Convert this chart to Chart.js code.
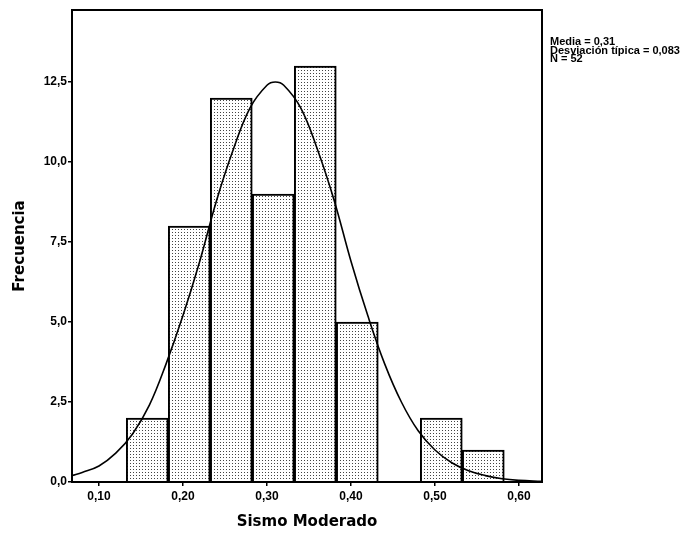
<!DOCTYPE html>
<html>
<head>
<meta charset="utf-8">
<script src="https://cdn.jsdelivr.net/npm/chart.js@4/dist/chart.umd.min.js"></script>
<style>
  html, body { margin: 0; padding: 0; background: #fff; }
  #wrap { width: 693px; height: 536px; }
</style>
</head>
<body>
<div id="wrap"><canvas id="hist"></canvas></div>
<script>
// histogram data
const binCenters = [0.1575, 0.2075, 0.2575, 0.3075, 0.3575, 0.4075, 0.4575, 0.5075, 0.5575];
const counts = [2, 8, 12, 9, 13, 5, 0, 2, 1];

// normal curve, read at these x positions
const curveX = [0.068, 0.08, 0.10, 0.12, 0.14, 0.16, 0.18, 0.20, 0.22, 0.24, 0.26, 0.28, 0.30, 0.31,
                0.32, 0.34, 0.36, 0.38, 0.40, 0.42, 0.44, 0.46, 0.48, 0.50, 0.52, 0.54, 0.56, 0.58, 0.60, 0.627];
const curveY = [0.2, 0.3, 0.5, 0.9, 1.5, 2.4, 3.7, 5.2, 6.9, 8.8, 10.4, 11.7, 12.4, 12.5,
                12.4, 11.7, 10.4, 8.8, 6.9, 5.2, 3.7, 2.5, 1.6, 1.0, 0.6, 0.35, 0.2, 0.1, 0.05, 0.02];

const xTicks = [0.10, 0.20, 0.30, 0.40, 0.50, 0.60];
const yTicks = [0, 2.5, 5, 7.5, 10, 12.5];
const statLines = ['Media = 0,31', 'Desviación típica = 0,083', 'N = 52'];

// stipple fill for the bars
const pat = document.createElement('canvas');
pat.width = 3; pat.height = 3;
const pctx = pat.getContext('2d');
pctx.fillStyle = '#fff';
pctx.fillRect(0, 0, 3, 3);
pctx.fillStyle = '#444';
pctx.fillRect(1, 1, 1, 1);

const frameAndStats = {
  id: 'frameAndStats',
  afterDraw(chart) {
    const { ctx, chartArea: a } = chart;
    ctx.save();
    ctx.strokeStyle = '#000';
    ctx.lineWidth = 2;
    ctx.strokeRect(a.left, a.top, a.right - a.left, a.bottom - a.top);
    ctx.fillStyle = '#000';
    ctx.font = 'bold 11px "Liberation Sans Narrow", "Liberation Sans", Arial';
    ctx.textBaseline = 'middle';
    statLines.forEach((t, i) => ctx.fillText(t, a.right + 8, 42 + i * 8.5));
    ctx.restore();
  }
};

new Chart(document.getElementById('hist'), {
  data: {
    datasets: [
      {
        type: 'line',
        data: curveX.map((x, i) => ({ x: x, y: curveY[i] })),
        borderColor: '#000',
        borderWidth: 1.6,
        pointRadius: 0,
        tension: 0.4,
        fill: false,
        order: 0
      },
      {
        type: 'bar',
        data: binCenters.map((x, i) => ({ x: x, y: counts[i] })),
        backgroundColor: document.createElement('canvas').getContext('2d').createPattern(pat, 'repeat'),
        borderColor: '#000',
        borderWidth: 2,
        barPercentage: 1,
        categoryPercentage: 1,
        grouped: false,
        order: 1
      }
    ]
  },
  options: {
    responsive: true,
    maintainAspectRatio: false,
    animation: false,
    events: [],
    layout: { padding: { top: 10, right: 151, left: 0, bottom: 0 } },
    plugins: { legend: { display: false }, tooltip: { enabled: false } },
    scales: {
      x: {
        type: 'linear',
        offset: false,
        min: 0.0679,
        max: 0.6274,
        afterBuildTicks: s => { s.ticks = xTicks.map(v => ({ value: v })); },
        afterFit: s => { s.height = 54; },
        grid: { offset: false, drawOnChartArea: false, tickLength: 4, color: '#000', lineWidth: 1.5 },
        border: { color: '#000', width: 2 },
        ticks: {
          color: '#000',
          font: { family: '"Liberation Sans"', size: 12, weight: 'bold' },
          padding: 3,
          maxRotation: 0,
          callback: v => v.toFixed(2).replace('.', ',')
        },
        title: {
          display: true,
          text: 'Sismo Moderado',
          color: '#000',
          font: { family: '"DejaVu Sans"', size: 15, weight: 'bold' },
          padding: { top: 0, bottom: 5 }
        }
      },
      y: {
        min: 0,
        max: 14.75,
        afterBuildTicks: s => { s.ticks = yTicks.map(v => ({ value: v })); },
        afterFit: s => { s.width = 72; },
        grid: { drawOnChartArea: false, tickLength: 4, color: '#000', lineWidth: 1.5 },
        border: { color: '#000', width: 2 },
        ticks: {
          color: '#000',
          font: { family: '"Liberation Sans"', size: 12, weight: 'bold' },
          padding: 1,
          callback: v => v.toFixed(1).replace('.', ',')
        },
        title: {
          display: true,
          text: 'Frecuencia',
          color: '#000',
          font: { family: '"DejaVu Sans"', size: 15, weight: 'bold' },
          padding: { top: 11, bottom: 0 }
        }
      }
    }
  },
  plugins: [frameAndStats]
});
</script>
</body>
</html>
